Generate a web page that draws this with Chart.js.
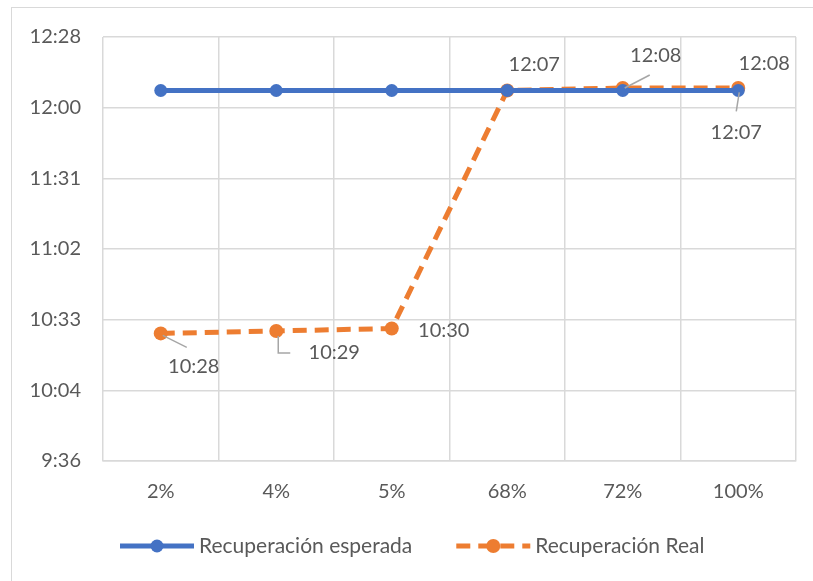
<!DOCTYPE html>
<html>
<head>
<meta charset="utf-8">
<script src="https://cdn.jsdelivr.net/npm/chart.js@4.4.1/dist/chart.umd.min.js"></script>
<style>
  html, body { margin: 0; padding: 0; background: #fff; overflow: hidden; }
  #frame { position: absolute; left: 11px; top: 7px; width: 900px; height: 700px; border: 1.5px solid #d9d9d9; }
  #wrap { position: absolute; left: 0; top: 0; width: 813px; height: 581px; }
</style>
</head>
<body>
<div id="frame"></div>
<div id="wrap"><canvas id="chart"></canvas></div>
<script>
// categories and values (minutes after midnight)
const categories = ["2%", "4%", "5%", "68%", "72%", "100%"];
const expected = [727, 727, 727, 727, 727, 727];
const actual = [628, 629, 630, 727, 728, 728];
const yTicks = [576, 604.8, 633.6, 662.4, 691.2, 720, 748.8];

const COLORS = {
    blue: "#4472C4",
    orange: "#ED7D31",
    grid: "#d9d9d9",
    text: "#595959",
    leader: "#a6a6a6",
};
const FONT = "Lato, 'Open Sans', sans-serif";
const FONT_SIZE = 20;
const LEGEND_FONT_SIZE = 21;

const fmtTime = (v) => {
    const m = Math.floor(v + 1e-6);
    return Math.floor(m / 60) + ":" + String(m % 60).padStart(2, "0");
};

// label placement per point: [dx, dy] of label centre, optional leader line
const labelPlacement = {
    1: [
        { dx: 33, dy: 33, leader: [[2, 2], [26, 14]] },
        { dx: 58, dy: 22, leader: [[2, 5], [2, 22], [14, 22]] },
        { dx: 52, dy: 2 },
        { dx: 27, dy: -26 },
        { dx: 33, dy: -32, leader: [[2, 0], [27, -13]] },
        { dx: 26, dy: -24 },
    ],
    0: [null, null, null, null, null, { dx: -2, dy: 42, leader: [[1, 2], [-2, 21]] }],
};

const dataLabels = {
    id: "dataLabels",
    afterDatasetsDraw(chart) {
        const ctx = chart.ctx;
        ctx.save();
        ctx.font = FONT_SIZE + "px " + FONT;
        ctx.fillStyle = COLORS.text;
        ctx.textAlign = "center";
        ctx.textBaseline = "middle";
        chart.data.datasets.forEach((ds, i) => {
            const meta = chart.getDatasetMeta(i);
            meta.data.forEach((pt, j) => {
                const p = labelPlacement[i][j];
                if (!p) return;
                if (p.leader) {
                    ctx.beginPath();
                    ctx.strokeStyle = COLORS.leader;
                    ctx.lineWidth = 1.5;
                    p.leader.forEach(([lx, ly], k) => {
                        if (k === 0) ctx.moveTo(pt.x + lx, pt.y + ly);
                        else ctx.lineTo(pt.x + lx, pt.y + ly);
                    });
                    ctx.stroke();
                }
                ctx.fillText(fmtTime(ds.data[j]), pt.x + p.dx, pt.y + p.dy);
            });
        });
        ctx.restore();
    },
};

const bottomLegend = {
    id: "bottomLegend",
    afterDraw(chart) {
        const ctx = chart.ctx;
        ctx.save();
        ctx.font = LEGEND_FONT_SIZE + "px " + FONT;
        ctx.textBaseline = "middle";
        const y = 546;
        let x = 120;
        chart.data.datasets.forEach((ds) => {
            ctx.beginPath();
            ctx.strokeStyle = ds.borderColor;
            ctx.lineWidth = ds.borderWidth;
            ctx.setLineDash(ds.borderDash || []);
            ctx.moveTo(x, y);
            ctx.lineTo(x + 74, y);
            ctx.stroke();
            ctx.setLineDash([]);
            ctx.beginPath();
            ctx.fillStyle = ds.borderColor;
            ctx.arc(x + 37, y, ds.pointRadius, 0, Math.PI * 2);
            ctx.fill();
            ctx.fillStyle = COLORS.text;
            ctx.fillText(ds.label, x + 79, y);
            x += 79 + ctx.measureText(ds.label).width + 44;
        });
        ctx.restore();
    },
};

const config = {
    type: "line",
    data: {
        labels: categories,
        datasets: [
            {
                label: "Recuperación esperada",
                data: expected,
                borderColor: COLORS.blue,
                backgroundColor: COLORS.blue,
                borderWidth: 5,
                pointRadius: 6.5,
                pointHoverRadius: 6.5,
                pointBorderWidth: 0,
            },
            {
                label: "Recuperación Real",
                data: actual,
                borderColor: COLORS.orange,
                backgroundColor: COLORS.orange,
                borderWidth: 5,
                borderDash: [14, 8],
                pointRadius: 7,
                pointHoverRadius: 7,
                pointBorderWidth: 0,
            },
        ],
    },
    options: {
        responsive: true,
        maintainAspectRatio: false,
        animation: false,
        layout: {
            padding: { left: 20, right: 17, top: 37, bottom: 70 },
        },
        plugins: {
            legend: { display: false },
            tooltip: { enabled: false },
        },
        scales: {
            x: {
                offset: true,
                grid: { color: COLORS.grid, lineWidth: 1.5, offset: true, drawTicks: false },
                border: { color: COLORS.grid, width: 1.5 },
                ticks: { color: COLORS.text, font: { family: FONT, size: FONT_SIZE }, padding: 19 },
                afterFit: (scale) => { scale.height = 50; },
            },
            y: {
                min: 576,
                max: 748.8,
                grid: { color: COLORS.grid, lineWidth: 1.5, drawTicks: false },
                border: { display: false },
                ticks: {
                    color: COLORS.text,
                    font: { family: FONT, size: FONT_SIZE },
                    padding: 22,
                    callback: (v) => fmtTime(v),
                },
                afterBuildTicks: (scale) => { scale.ticks = yTicks.map((v) => ({ value: v })); },
                afterFit: (scale) => { scale.width = 83; },
            },
        },
    },
    plugins: [dataLabels, bottomLegend],
};

new Chart(document.getElementById("chart"), config);
</script>
</body>
</html>
